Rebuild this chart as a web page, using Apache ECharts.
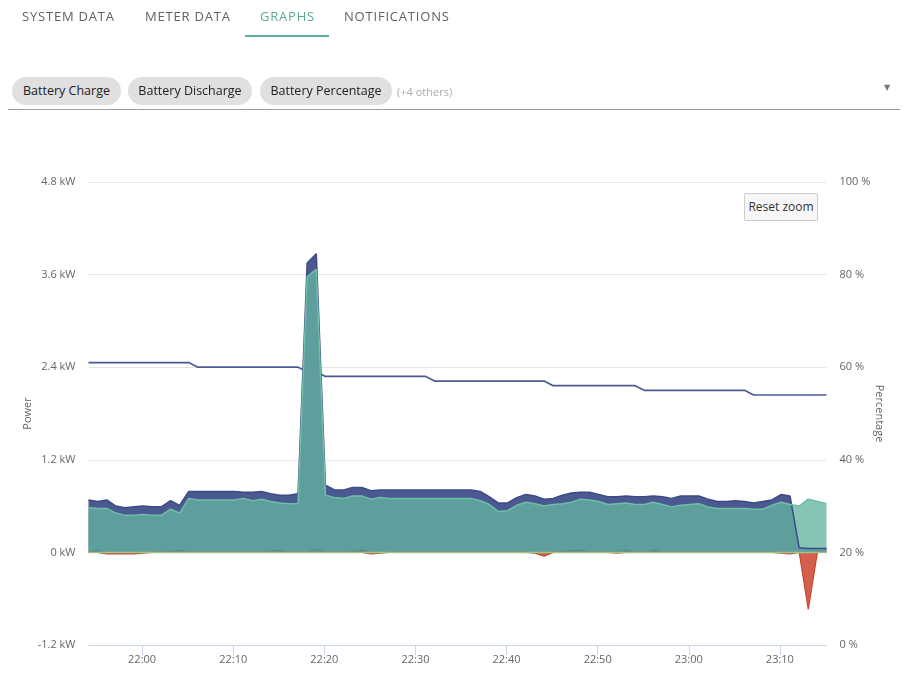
<!DOCTYPE html>
<html>
<head>
<meta charset="utf-8">
<script src="https://cdn.jsdelivr.net/npm/echarts@6/dist/echarts.min.js"></script>
<style>
  html, body { margin: 0; padding: 0; background: #fff; }
  body { width: 903px; height: 687px; position: relative; overflow: hidden; font-family: "Open Sans", "DejaVu Sans", sans-serif; }
  #chart { position: absolute; left: 0; top: 0; width: 903px; height: 687px; z-index: 0; }
  .tab { position: absolute; top: 7px; font-size: 13px; letter-spacing: 0.8px; color: #616161; line-height: 18px; z-index: 2; }
  .tab.active { color: #5fa99a; }
  #underline { position: absolute; left: 245px; top: 35px; width: 84px; height: 2px; background: #5fae9e; z-index: 2; }
  .chip { position: absolute; top: 77px; height: 28px; line-height: 28px; border-radius: 14px; background: #e0e0e0; color: #222; font-size: 12.5px; text-align: center; z-index: 2; }
  #others { position: absolute; left: 397px; top: 84px; font-size: 11px; color: #aaa; line-height: 16px; z-index: 2; }
  #arrow { position: absolute; left: 884px; top: 81px; font-size: 8px; color: #777; z-index: 2; }
  #sep { position: absolute; left: 8px; top: 109px; width: 892px; height: 1px; background: #9e9e9e; z-index: 2; }
  #reset { position: absolute; left: 744px; top: 193px; width: 72px; height: 26px; line-height: 26px; border: 1px solid #cccccc; border-radius: 2px; background: #f7f7f7; color: #333; font-size: 12px; text-align: center; z-index: 2; }
</style>
</head>
<body>
<div id="chart"></div>
<div class="tab" style="left:22px">SYSTEM DATA</div>
<div class="tab" style="left:145px">METER DATA</div>
<div class="tab active" style="left:260px">GRAPHS</div>
<div class="tab" style="left:344px">NOTIFICATIONS</div>
<div id="underline"></div>
<div class="chip" style="left:12px;width:109px">Battery Charge</div>
<div class="chip" style="left:128px;width:124px">Battery Discharge</div>
<div class="chip" style="left:260px;width:132px">Battery Percentage</div>
<div id="others">(+4 others)</div>
<div id="arrow">▼</div>
<div id="sep"></div>
<div id="reset">Reset zoom</div>
<script>
// ---- data (one sample per minute) ----
const times = [
 '21:54:07','21:55:07','21:56:07','21:57:07','21:58:07','21:59:07','22:00:07','22:01:07','22:02:07','22:03:07',
 '22:04:07','22:05:07','22:06:07','22:07:07','22:08:07','22:09:07','22:10:07','22:11:07','22:12:07','22:13:07',
 '22:14:07','22:15:07','22:16:07','22:17:07','22:18:07','22:19:07','22:20:07','22:21:07','22:22:07','22:23:07',
 '22:24:07','22:25:07','22:26:07','22:27:07','22:28:07','22:29:07','22:30:07','22:31:07','22:32:07','22:33:07',
 '22:34:07','22:35:07','22:36:07','22:37:07','22:38:07','22:39:07','22:40:07','22:41:07','22:42:07','22:43:07',
 '22:44:07','22:45:07','22:46:07','22:47:07','22:48:07','22:49:07','22:50:07','22:51:07','22:52:07','22:53:07',
 '22:54:07','22:55:07','22:56:07','22:57:07','22:58:07','22:59:07','23:00:07','23:01:07','23:02:07','23:03:07',
 '23:04:07','23:05:07','23:06:07','23:07:07','23:08:07','23:09:07','23:10:07','23:11:07','23:12:07','23:13:07',
 '23:14:07','23:15:07'
];
// kW
const solar = [
 0.68,0.66,0.68,0.60,0.58,0.59,0.60,0.59,0.59,0.67,
 0.61,0.79,0.79,0.79,0.79,0.79,0.79,0.78,0.78,0.79,
 0.76,0.74,0.74,0.76,3.75,3.87,0.87,0.81,0.81,0.84,
 0.84,0.80,0.81,0.81,0.81,0.81,0.81,0.81,0.81,0.81,
 0.81,0.81,0.81,0.79,0.72,0.64,0.64,0.71,0.75,0.73,
 0.69,0.70,0.74,0.77,0.78,0.78,0.75,0.72,0.72,0.73,
 0.72,0.72,0.73,0.72,0.70,0.73,0.73,0.73,0.69,0.66,
 0.66,0.67,0.66,0.64,0.66,0.68,0.75,0.73,0.06,0.05,
 0.05,0.05
];
const consumption = [
 0.58,0.57,0.57,0.51,0.48,0.48,0.49,0.48,0.48,0.56,
 0.51,0.70,0.68,0.68,0.68,0.68,0.68,0.70,0.67,0.69,
 0.66,0.64,0.63,0.63,3.57,3.67,0.74,0.71,0.70,0.73,
 0.73,0.69,0.71,0.70,0.70,0.70,0.70,0.70,0.70,0.70,
 0.70,0.70,0.70,0.67,0.62,0.53,0.54,0.61,0.65,0.63,
 0.60,0.62,0.63,0.65,0.69,0.68,0.66,0.62,0.63,0.64,
 0.62,0.62,0.65,0.62,0.59,0.61,0.62,0.63,0.59,0.57,
 0.57,0.57,0.57,0.56,0.56,0.61,0.65,0.62,0.60,0.69,
 0.66,0.63
];
const gridImport = [
 0.01,0.04,0.01,0.00,0.00,0.00,0.01,0.00,0.01,0.02,
 0.04,0.01,0.00,0.00,0.01,0.00,0.00,0.01,0.00,0.01,
 0.02,0.04,0.01,0.00,0.01,0.05,0.01,0.00,0.01,0.02,
 0.04,0.01,0.00,0.00,0.01,0.00,0.00,0.01,0.00,0.01,
 0.00,0.01,0.00,0.01,0.00,0.00,0.01,0.00,0.01,0.00,
 0.01,0.00,0.02,0.03,0.04,0.01,0.00,0.01,0.02,0.04,
 0.01,0.00,0.04,0.01,0.00,0.01,0.00,0.00,0.01,0.00,
 0.01,0.00,0.00,0.01,0.00,0.01,0.01,0.01,0.00,0.00,
 0.00,0.00
];
const batteryCharge = [
 0,0,0,0,0,0,0,0,0,0, 0,0,0,0,0,0,0,0,0,0,
 0,0,0,0,0,0,0,0,0,0, 0,0,0,0,0,0,0,0,0,0,
 0,0,0,0,0,0,0,0,0,0, 0,0,0,0,0,0,0,0,0,0,
 0,0,0,0,0,0,0,0,0,0, 0,0,0,0,0,0,0,0,0,0,
 0,0
];
const batteryDischarge = [
 0,0,-0.02,-0.02,-0.02,-0.02,-0.01,0,0,0,
 0,0,0,0,0,0,0,0,0,0,
 0,0,0,0,0,0,0,0,0,0,
 0,-0.02,-0.01,0,0,0,0,0,0,0,
 0,0,0,0,0,0,0,0,0,-0.01,
 -0.05,0,0,0,0,0,0,0,-0.01,0,
 0,0,0,0,0,0,0,0,0,0,
 0,0,0,0,0,0,-0.01,-0.02,0,-0.74,
 0,0
];
// %
const batteryPercentage = [
 61,61,61,61,61,61,61,61,61,61,61,61,
 60,60,60,60,60,60,60,60,60,60,60,60,
 59,59,
 58,58,58,58,58,58,58,58,58,58,58,58,
 57,57,57,57,57,57,57,57,57,57,57,57,57,
 56,56,56,56,56,56,56,56,56,56,
 55,55,55,55,55,55,55,55,55,55,55,55,
 54,54,54,54,54,54,54,54,54
];
const powerTicks = { min: -1.2, max: 4.8, step: 1.2 };
const pctTicks = { min: 0, max: 100, step: 20 };

// ---- build ----
const day = '2024-01-01T';
const ts = times.map(t => new Date(day + t).getTime());
const pair = arr => arr.map((v, i) => [ts[i], v]);
const FONT = '"Open Sans", sans-serif';

const chart = echarts.init(document.getElementById('chart'), null, { renderer: 'canvas' });
chart.setOption({
  animation: false,
  backgroundColor: 'transparent',
  grid: { left: 88.5, right: 76.5, top: 182, bottom: 42, containLabel: false },
  xAxis: {
    type: 'time',
    min: ts[0], max: ts[ts.length - 1],
    minInterval: 720000, maxInterval: 720000,
    axisLine: { show: true, onZero: false, lineStyle: { color: '#ccd6eb', width: 1 } },
    axisTick: { show: true, length: 10, lineStyle: { color: '#ccd6eb' } },
    axisLabel: { formatter: '{HH}:{mm}', color: '#666', fontSize: 11, fontFamily: FONT, margin: 9, showMinLabel: false, showMaxLabel: false, hideOverlap: false },
    splitLine: { show: false }
  },
  yAxis: [
    {
      type: 'value', min: powerTicks.min, max: powerTicks.max, interval: powerTicks.step,
      name: 'Power', nameLocation: 'middle', nameGap: 55, nameMoveOverlap: false,
      nameTextStyle: { color: '#666', fontSize: 11, fontFamily: FONT },
      axisLine: { show: false }, axisTick: { show: false },
      axisLabel: { formatter: v => (Math.round(v * 10) / 10) + ' kW', color: '#666', fontSize: 11, fontFamily: FONT, margin: 13 },
      splitLine: { show: true, lineStyle: { color: '#e6e6e6', width: 1 } }
    },
    {
      type: 'value', min: pctTicks.min, max: pctTicks.max, interval: pctTicks.step, position: 'right',
      name: 'Percentage', nameLocation: 'middle', nameGap: 47, nameRotate: -90, nameMoveOverlap: false,
      nameTextStyle: { color: '#666', fontSize: 11, fontFamily: FONT },
      axisLine: { show: false }, axisTick: { show: false },
      axisLabel: { formatter: '{value} %', color: '#666', fontSize: 11, fontFamily: FONT, margin: 13 },
      splitLine: { show: false }
    }
  ],
  series: [
    {
      name: 'Battery Percentage', type: 'line', yAxisIndex: 1, data: pair(batteryPercentage),
      symbol: 'none', lineStyle: { color: '#4c5a94', width: 1.7 }, z: 1
    },
    {
      name: 'Solar', type: 'line', data: pair(solar), symbol: 'none',
      lineStyle: { color: '#3d4a85', width: 1.5 },
      areaStyle: { color: '#4b5991', opacity: 1 }, z: 2
    },
    {
      name: 'Consumption', type: 'line', data: pair(consumption), symbol: 'none',
      lineStyle: { color: '#6dbfa7', width: 1.5 },
      areaStyle: { color: 'rgb(100,180,160)', opacity: 0.78 }, z: 2
    },
    {
      name: 'Grid Import', type: 'line', data: pair(gridImport), symbol: 'none',
      lineStyle: { width: 0, color: 'rgba(60,110,110,0.3)' },
      areaStyle: { color: 'rgb(60,110,110)', opacity: 0.3 }, z: 2
    },
    {
      name: 'Battery Discharge', type: 'line', data: pair(batteryDischarge), symbol: 'none',
      lineStyle: { color: '#c9472f', width: 1.2 },
      areaStyle: { color: '#d2604d', opacity: 1 }, z: 2
    },
    {
      name: 'Battery Charge', type: 'line', data: pair(batteryCharge), symbol: 'none',
      lineStyle: { color: 'rgba(160,205,145,0.9)', width: 1.5 }, z: 2
    }
  ]
});
</script>
</body>
</html>
